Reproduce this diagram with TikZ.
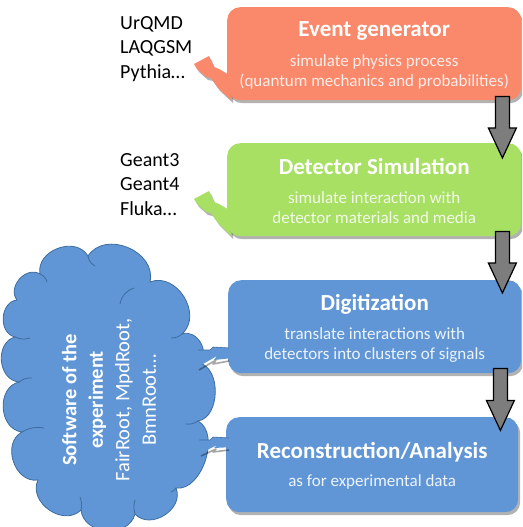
\documentclass[tikz,border=0pt]{standalone}
\usepackage{fontspec}
\setmainfont{Carlito}
\usetikzlibrary{calc,shadows}
\definecolor{salmon}{RGB}{250,136,106}
\definecolor{lgreen}{RGB}{168,224,100}
\definecolor{mblue}{RGB}{96,150,214}
\definecolor{dblue}{RGB}{62,108,158}
\definecolor{agray}{RGB}{125,125,125}
\newcommand\flowarrow[2]{\draw[blockarrow] let \p1=(#1), \p2=(#2) in
  (\x1-7pt,\y1) -- (\x1+7pt,\y1) -- (\x1+7pt,\y2+30pt) -- (\x1+14pt,\y2+30pt) -- (\x1,\y2)
  -- (\x1-14pt,\y2+30pt) -- (\x1-7pt,\y2+30pt) -- cycle;}
\begin{document}
\begin{tikzpicture}[x=1pt,y=-1pt,
  shad/.style={drop shadow={shadow xshift=2pt,shadow yshift=-3pt,fill=black,opacity=0.3}},
  box/.style={rectangle, rounded corners=13pt, inner sep=0pt, anchor=north west, minimum height=93pt, shad},
  ttl/.style={text=white, font=\fontsize{23}{27}\selectfont\bfseries, inner sep=0pt},
  sub/.style={font=\fontsize{17}{20}\selectfont, align=center, inner sep=0pt},
  side/.style={font=\fontsize{20}{24.5}\selectfont, align=left, anchor=north west, inner sep=0pt},
  blockarrow/.style={fill=agray, draw=black, line width=1.2pt, line join=miter},
  puff/.style={bend left=80, looseness=1.2},
  inarc/.style={draw=dblue, line width=0.8pt},
  tailshade/.style={draw=black, opacity=0.35, line width=1.6pt, line join=round},
  tailedge/.style={draw=dblue, line width=0.6pt, line join=round},
]
\useasboundingbox (0,0) rectangle (522,527);
\clip (0,0) rectangle (522,527);

% side labels
\node[side] (gen) at (120,16) {UrQMD\\LAQGSM\\Pythia…};
\node[side] (trans) at (120,153) {Geant3\\Geant4\\Fluka…};

% callout tails (lightning)
\fill[salmon, shad] (194,64) -- (209,56) -- (214,67) -- (219,69) -- (231,76) -- (231,100) -- (218,88) -- (211,78) -- (206,77) -- (197,69) -- cycle;
\fill[lgreen, shad] (194,199) -- (209,191) -- (214,202) -- (219,204) -- (231,211) -- (231,236) -- (218,223) -- (211,213) -- (206,212) -- (197,204) -- cycle;

% boxes
\node[box, fill=salmon, minimum width=294pt] (ev) at (227,7) {};
\node[box, fill=lgreen, minimum width=294pt] (det) at (227,143) {};
\node[box, fill=mblue, minimum width=293pt] (dig) at (228,280) {};
\node[box, fill=mblue, minimum width=292pt, minimum height=95pt] (rec) at (226,417) {};

% texts
\node[ttl] (evt) at ($(ev.north)+(0,24)$) {Event generator};
\node[sub, text=white!85!salmon] (evs) at ($(ev.north)+(0,65)$) {simulate physics process\\(quantum mechanics and probabilities)};
\node[ttl] (dett) at ($(det.north)+(0,23)$) {Detector Simulation};
\node[sub, text=white!85!lgreen] (dets) at ($(det.north)+(0,65)$) {simulate interaction with\\detector materials and media};
\node[ttl] (digt) at ($(dig.north)+(0,24)$) {Digitization};
\node[sub, text=white!88!mblue] (digs) at ($(dig.north)+(0,65)$) {translate interactions with\\detectors into clusters of signals};
\node[ttl] (rect) at ($(rec.north)+(0,35)$) {Reconstruction/Analysis};
\node[sub, text=white!88!mblue] (recs) at ($(rec.north)+(0,65)$) {as for experimental data};

% arrows
\coordinate (a1s) at ($(ev.south east)+(-19,-4)$);
\coordinate (a1e) at ($(det.north east)+(-19,15)$);
\coordinate (a2s) at ($(det.south east)+(-19,-5)$);
\coordinate (a2e) at ($(dig.north east)+(-19,13)$);
\coordinate (a3s) at ($(dig.south east)+(-21,-5)$);
\coordinate (a3e) at ($(dig.south east)+(-21,57)$);
\flowarrow{a1s}{a1e}
\flowarrow{a2s}{a2e}
\flowarrow{a3s}{a3e}

% cloud
\draw[fill=mblue, draw=dblue, line width=0.8pt]
  (17,300) to[puff] (40,274) to[puff] (88,256) to[puff] (150,282)
  to[puff] (182,334) to[puff] (199,363) to[puff, looseness=1] (198,421)
  to[puff, looseness=0.95] (176,488) to[puff] (135,514) to[puff] (81,510)
  to[puff] (38,480) to[puff] (22,432) to[puff] (19,382)
  to[puff] (15,337) to[puff] cycle;
% inner arcs of the cloud
\draw[inarc] (88,256) to[bend right=25] (95,266);
\draw[inarc] (40,274) to[bend left=25] (47,282);
\draw[inarc] (134,288) to[bend right=30] (120,304);
\draw[inarc] (182,334) to[bend left=20] (171,338);
\draw[inarc] (198,421) to[bend left=20] (186,424);
\draw[inarc] (176,488) to[bend left=20] (171,492);
\draw[inarc] (135,514) to[bend left=15] (135,500);
\draw[inarc] (81,510) to[bend right=15] (80,497);
\draw[inarc] (22,432) to[bend left=20] (44,428);
\draw[inarc] (19,382) to[bend left=20] (32,378);
\draw[inarc] (15,337) to[bend right=20] (30,338);

\node[text=white, rotate=90, align=center, font=\fontsize{20.5}{26.5}\selectfont] (sw) at (109,400)
  {{\bfseries Software of the}\\{\bfseries experiment}\\FairRoot, MpdRoot,\\BmnRoot…};

% cloud tails
\draw[tailshade] (199,370) -- (216,360) -- (213,364) -- (229,361);
\fill[mblue] (194,350) -- (210,350) -- (213,347) -- (233,348) -- (233,358) -- (214,360) -- (217,356) -- (196,368) -- cycle;
\draw[tailedge] (198,350) -- (210,350) -- (213,347) -- (229,348);
\draw[tailshade] (201,456) -- (216,449) -- (213,452) -- (229,450);
\fill[mblue] (196,440) -- (210,440) -- (213,437) -- (233,438) -- (233,447) -- (214,448) -- (217,445) -- (199,454) -- cycle;
\draw[tailedge] (199,440) -- (210,440) -- (213,437) -- (229,438);
\end{tikzpicture}
\end{document}
